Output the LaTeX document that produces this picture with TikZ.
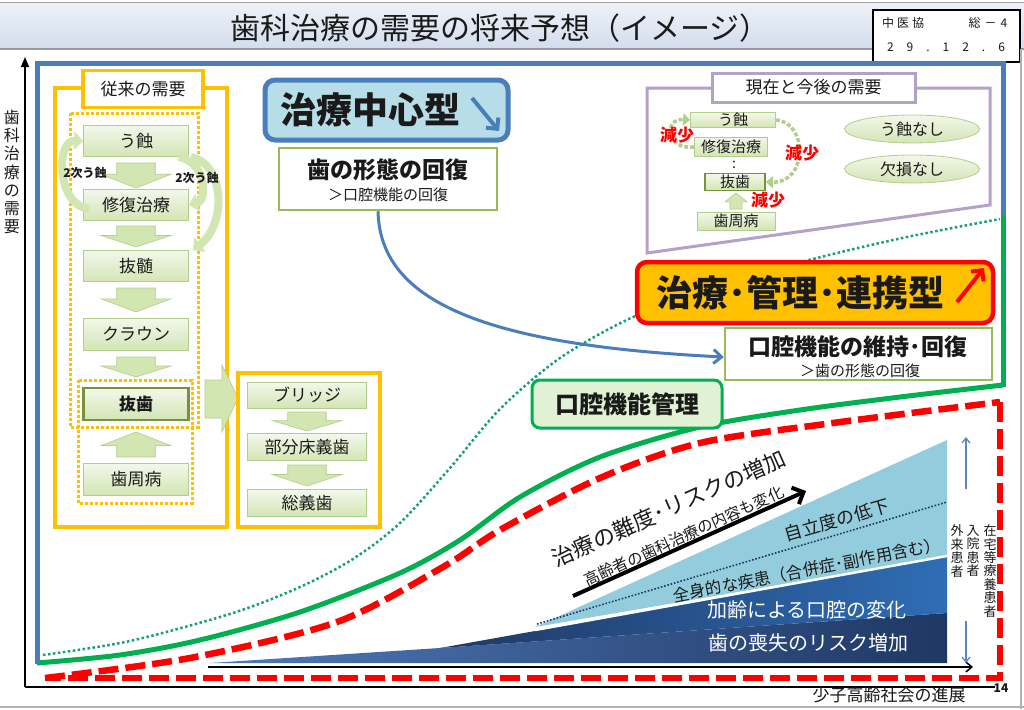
\documentclass[tikz,border=0pt]{standalone}
\usepackage{fontspec}
\setmainfont{Noto Sans CJK JP}
\usetikzlibrary{arrows.meta,shapes.geometric}
\definecolor{bluefr}{HTML}{4A7EBB}
\definecolor{greenfr}{HTML}{00B050}
\definecolor{dotg}{HTML}{13A07A}
\definecolor{redd}{HTML}{FF0000}
\definecolor{yel}{HTML}{FFC000}
\definecolor{purp}{HTML}{B3A2C7}
\definecolor{gtop}{HTML}{F3F8EB}
\definecolor{gbot}{HTML}{D3E5B4}
\definecolor{gdraw}{HTML}{B3CD8A}
\definecolor{gdark}{HTML}{76923C}
\definecolor{cgreen}{HTML}{D2E6B2}
\definecolor{lblue}{HTML}{93CDDD}
\definecolor{mblue}{HTML}{2F6DB5}
\definecolor{navy}{HTML}{1F3864}
\definecolor{wedge}{HTML}{5079B8}
\definecolor{cfill}{HTML}{B7DEE8}
\definecolor{okfill}{HTML}{E0F2D3}
\definecolor{olive}{HTML}{9BBB59}
\definecolor{txt}{HTML}{1A1A1A}
\definecolor{ttop}{HTML}{EEF2F8}
\definecolor{tbot}{HTML}{D2DDEC}
\definecolor{arrblue}{HTML}{5B86C5}
\newcommand{\fsz}[1]{\fontsize{#1}{#1}\selectfont}
\newcommand{\blkarrow}[4]{%
  \filldraw[barrow] ({#1-0.55*#4},#2) -- ({#1+0.55*#4},#2) -- ({#1+0.55*#4},{#2+0.45*(#3-#2)}) -- ({#1+#4},{#2+0.45*(#3-#2)}) -- (#1,#3) -- ({#1-#4},{#2+0.45*(#3-#2)}) -- ({#1-0.55*#4},{#2+0.45*(#3-#2)}) -- cycle;}
\begin{document}
\begin{tikzpicture}[x=1pt,y=-1pt,
  lab/.style={inner sep=0pt, text=txt},
  gbox/.style={draw=gdraw, line width=0.8pt, top color=gtop, bottom color=gbot, inner sep=0pt, text=txt},
  gboxb/.style={draw=gdark, line width=2.2pt, top color=gtop, bottom color=gbot, inner sep=0pt, text=txt},
  wbox/.style={draw=olive, line width=2.5pt, fill=white, inner sep=0pt},
  barrow/.style={fill=cgreen, draw=gdraw, line width=0.6pt},
  curvarr/.style={line width=8pt, draw=cgreen, -{Triangle[length=9pt,width=18pt]}},
  dcurv/.style={line width=3.5pt, draw=gdraw, dash pattern=on 4pt off 2pt, -{Triangle[length=7pt,width=12pt]}},
  genshou/.style={inner sep=0pt, text=redd, font=\fsz{17}\bfseries},
  vlab/.style={inner sep=0pt, align=center, text=txt}
]
\useasboundingbox (0,0) rectangle (1024,709);
\fill[white] (0,0) rectangle (1024,709);
% title bar
\shade[top color=ttop, bottom color=tbot] (0,3) rectangle (1024,49);
\draw[gray!70, line width=1pt] (0,3) -- (1024,3);
\draw[gray!80, line width=1.5pt] (0,49) -- (1024,49);
\node[lab, font=\fsz{30}] (title) at (500,28) {歯科治療の需要の将来予想（イメージ）};
\node[draw=black, line width=2.5pt, fill=white, minimum width=147pt, minimum height=52pt, inner sep=0pt] (stamp) at (946.5,36) {};
\node[lab, font=\fsz{12}] (st1) at (903,23) {中\hspace{3pt}医\hspace{3pt}協};
\node[lab, font=\fsz{12}] (st2) at (988,23) {総\hspace{4pt}－\hspace{4pt}4};
\node[lab, font=\fsz{12}] (st3) at (946,47) {2\hspace{13pt}9\hspace{13pt}.\hspace{13pt}1\hspace{13pt}2\hspace{13pt}.\hspace{13pt}6};
% slide edges
\draw[gray!60, line width=1.2pt] (0,707) -- (1024,707);
\draw[gray!60, line width=1.2pt] (1021,49) -- (1021,709);
% axes
\coordinate (yb) at (25,687);
\coordinate (yt) at (25,57);
\coordinate (xr) at (995,687);
\draw[line width=1.5pt] (xr) -- (yb);
\draw[line width=1.5pt, -{Triangle[length=10pt,width=8pt]}] (yb) -- (yt);
\node[vlab, font=\fontsize{16}{18.3}\selectfont] (ylab) at (12,172) {歯\\科\\治\\療\\の\\需\\要};
\node[lab, font=\fsz{17}] (xlab) at (889,695) {少子高齢社会の進展};
\node[lab, font=\fsz{12}\bfseries] (pg) at (1001,688) {14};
% dotted green curve
\draw[dotg, line width=2.5pt, dash pattern=on 2.5pt off 2.5pt] plot[smooth] coordinates {(43,655) (130,641) (233,613) (300,587) (353,559) (400,523) (450,468) (500,409) (560,358) (633,317) (720,285) (817,258) (907,237) (1000,219)};
% red dashed
\draw[redd, line width=6.5pt, dash pattern=on 20pt off 7pt] plot[smooth] coordinates {(45,678) (190,658) (337,622) (443,567) (500,530) (600,478) (700,443) (833,423) (1000,402)};
\draw[redd, line width=6.5pt, dash pattern=on 20pt off 7pt] (1000,402) -- (1000,678) -- (45,678);
% green frame
\draw[greenfr, line width=5pt] plot[smooth] coordinates {(37,663) (120,655) (200,640) (300,612) (400,573) (460,540) (520,497) (600,457) (700,427) (800,410) (900,397) (1003,385)};
\draw[greenfr, line width=5pt] (1003,387) -- (1003,213);
% blue frame
\draw[bluefr, line width=5pt] (37,664) -- (37,63) -- (1003,63) -- (1003,216);
% chart
\shade[left color=wedge, right color=navy] (210,663) -- (440,648) -- (947,613) -- (947,663) -- cycle;
\shade[left color=navy, middle color=mblue, right color=mblue] (440,648) -- (535,631) -- (947,556) -- (947,613) -- cycle;
\fill[lblue] (535,627) -- (947,440) -- (947,556) -- cycle;
\draw[white, line width=2.5pt] (535,630) -- (947,556);
\draw[navy, line width=1.6pt, dash pattern=on 1.6pt off 1.8pt] (537,624) -- (947,502);
\coordinate (cxl) at (208,667);
\coordinate (cxr) at (973,667);
\draw[line width=1.5pt, -{Straight Barb[length=6pt,width=10pt]}] (cxl) -- (cxr);
\node[lab, font=\fsz{22}, rotate=24] (nan) at (669,508) {治療の難度･リスクの増加};
\node[lab, font=\fsz{15.5}, rotate=24.5] (kou) at (684,536) {高齢者の歯科治療の内容も変化};
\coordinate (ka1) at (573,596);
\coordinate (ka2) at (806,491);
\draw[line width=4pt, -{Straight Barb[length=9pt,width=18pt]}] (ka1) -- (ka2);
\node[lab, font=\fsz{18}, rotate=16] (jir) at (837,520) {自立度の低下};
\node[lab, font=\fsz{16.5}, rotate=11] (zen) at (807,570) {全身的な疾患（合併症･副作用含む）};
\node[lab, font=\fsz{20}, text=white] (kar) at (807,610) {加齢による口腔の変化};
\node[lab, font=\fsz{20}, text=white] (sou) at (808,643) {歯の喪失のリスク増加};
\coordinate (ua1) at (966,489);
\coordinate (ua2) at (966,437);
\coordinate (da1) at (966,621);
\coordinate (da2) at (966,663);
\draw[arrblue, line width=1.3pt, -{Straight Barb[length=5pt,width=8pt]}] (ua1) -- (ua2);
\draw[arrblue, line width=1.3pt, -{Straight Barb[length=5pt,width=8pt]}] (da1) -- (da2);
\node[vlab, font=\fontsize{13}{13.4}\selectfont] (gai) at (957,551) {外\\来\\患\\者};
\node[vlab, font=\fontsize{13}{13.4}\selectfont] (nyu) at (973,551) {入\\院\\患\\者};
\node[vlab, font=\fontsize{13}{13.4}\selectfont] (zai) at (990,571) {在\\宅\\等\\療\\養\\患\\者};
% left panel
\draw[yel, line width=3.5pt] (55,88) rectangle (227,527);
\draw[yel, line width=3pt, dash pattern=on 3pt off 2pt] (70,113) rectangle (198,427);
\draw[yel, line width=3pt, dash pattern=on 3pt off 2pt] (78,380) rectangle (192,503);
\node[draw=yel, line width=3.5pt, fill=white, minimum width=120pt, minimum height=37pt, inner sep=0pt, text=txt, font=\fsz{17}] (jur) at (143,89) {従来の需要};
\node[gbox, minimum width=105pt, minimum height=31pt, font=\fsz{17}] (u1) at (136,141) {う蝕};
\node[gbox, minimum width=105pt, minimum height=31pt, font=\fsz{17}] (s1) at (136,205) {修復治療};
\node[gbox, minimum width=105pt, minimum height=31pt, font=\fsz{17}] (b1) at (136,266) {抜髄};
\node[gbox, minimum width=105pt, minimum height=32pt, font=\fsz{17}] (c1) at (136,334) {クラウン};
\node[gboxb, minimum width=105pt, minimum height=32pt, font=\fsz{17}\bfseries] (x1) at (136,404) {抜歯};
\node[gbox, minimum width=105pt, minimum height=32pt, font=\fsz{17}] (p1) at (136,479) {歯周病};
\blkarrow{136}{163}{188}{35}
\blkarrow{136}{226}{247}{35}
\blkarrow{136}{288}{312}{35}
\blkarrow{136}{357}{377}{35}
\blkarrow{136}{457}{432}{35}
\draw[curvarr] ([xshift=6pt,yshift=-4pt]s1.west) .. controls (56,205) and (56,140) .. (u1.west);
\draw[curvarr] ([xshift=-10pt]u1.south east) .. controls (206,162) and (208,200) .. (s1.east);
\draw[curvarr] ([xshift=2pt]u1.south east) .. controls (226,165) and (226,225) .. ([xshift=4pt]b1.north east);
\node[lab, font=\fsz{12}\bfseries] (ni1) at (85,173) {2次う蝕};
\node[lab, font=\fsz{12}\bfseries] (ni2) at (197,178) {2次う蝕};
\filldraw[barrow] (205,380) -- (222,380) -- (222,365) -- (238,398) -- (222,432) -- (222,418) -- (205,418) -- cycle;
\draw[yel, line width=3.5pt] (238,373) rectangle (380,527);
\node[gbox, minimum width=119pt, minimum height=26pt, font=\fsz{17}] (br) at (307,395) {ブリッジ};
\node[gbox, minimum width=119pt, minimum height=27pt, font=\fsz{17}] (pd) at (307,447) {部分床義歯};
\node[gbox, minimum width=119pt, minimum height=27pt, font=\fsz{17}] (cd) at (307,503) {総義歯};
\blkarrow{307}{412}{431}{35}
\blkarrow{307}{465}{486}{35}
% middle
\node[draw=bluefr, line width=5pt, fill=cfill, rounded corners=10pt, minimum width=243pt, minimum height=60pt, inner sep=0pt] (chu) at (386.5,110) {};
\node[lab, font=\fsz{36}\bfseries] (chut) at (370,110) {治療中心型};
\coordinate (cha1) at (472,98);
\coordinate (cha2) at (499,131);
\draw[bluefr, line width=4pt, -{Straight Barb[length=8pt,width=16pt]}] (cha1) -- (cha2);
\node[wbox, minimum width=218pt, minimum height=62pt] (kei) at (388,179) {};
\node[lab, font=\fsz{23}\bfseries] (kei1) at (388,170) {歯の形態の回復};
\node[lab, font=\fsz{15}] (kei2) at (388,195) {＞口腔機能の回復};
% right purple
\draw[purp, line width=3pt] (647,88) -- (990,88) -- (990,205) -- (647,253) -- cycle;
\node[draw=purp, line width=3pt, fill=white, minimum width=203pt, minimum height=29pt, inner sep=0pt, text=txt, font=\fsz{17}] (gen) at (813.5,87.5) {現在と今後の需要};
\node[gbox, minimum width=85pt, minimum height=15pt, font=\fsz{15}] (u2) at (733,120) {う蝕};
\node[gbox, minimum width=73pt, minimum height=19pt, font=\fsz{15}] (s2) at (731,147) {修復治療};
\node[lab, font=\fsz{14}] (dt) at (734,165) {:};
\node[gboxb, line width=1.8pt, minimum width=60pt, minimum height=17pt, font=\fsz{15}] (b2) at (735,182) {抜歯};
\node[gbox, minimum width=78pt, minimum height=18pt, font=\fsz{15}] (p2) at (736,221) {歯周病};
\blkarrow{736}{209}{193}{11}
\draw[dcurv] (s2.west) .. controls (664,150) and (664,118) .. (u2.west);
\draw[dcurv] (u2.east) .. controls (808,122) and (808,183) .. (b2.east);
\node[genshou] (g1) at (677,135) {減少};
\node[genshou] (g2) at (802,153) {減少};
\node[genshou] (g3) at (768,200) {減少};
\node[ellipse, draw=gdraw, line width=0.8pt, top color=gtop, bottom color=gbot, minimum width=135pt, minimum height=28pt, inner sep=0pt, text=txt, font=\fsz{16}] (un) at (912,129) {う蝕なし};
\node[ellipse, draw=gdraw, line width=0.8pt, top color=gtop, bottom color=gbot, minimum width=135pt, minimum height=28pt, inner sep=0pt, text=txt, font=\fsz{16}] (kn) at (912,169) {欠損なし};
% orange box
\node[draw=redd, line width=4.5pt, fill=yel, rounded corners=10pt, minimum width=356pt, minimum height=61pt, inner sep=0pt] (kan) at (815,292.5) {};
\node[lab, font=\fsz{36}\bfseries] (kant) at (800,293) {治療･管理･連携型};
\coordinate (ra1) at (957,302);
\coordinate (ra2) at (984,268);
\draw[redd, line width=4pt, -{Straight Barb[length=8pt,width=16pt]}] (ra1) -- (ra2);
\node[wbox, minimum width=267pt, minimum height=52pt] (iji) at (858.5,354) {};
\node[lab, font=\fsz{23}\bfseries] (iji1) at (858,347) {口腔機能の維持･回復};
\node[lab, font=\fsz{15}] (iji2) at (860,371) {＞歯の形態の回復};
\node[draw=greenfr, line width=3pt, fill=okfill, rounded corners=8pt, minimum width=190pt, minimum height=48pt, inner sep=0pt, text=txt, font=\fsz{24}\bfseries] (okk) at (627,404) {口腔機能管理};
% connector
\draw[bluefr, line width=3pt, -{Straight Barb[length=8pt,width=14pt]}] (kei.south -| 378,0) .. controls (380,300) and (480,345) .. (iji.west |- 0,357);
\end{tikzpicture}
\end{document}
